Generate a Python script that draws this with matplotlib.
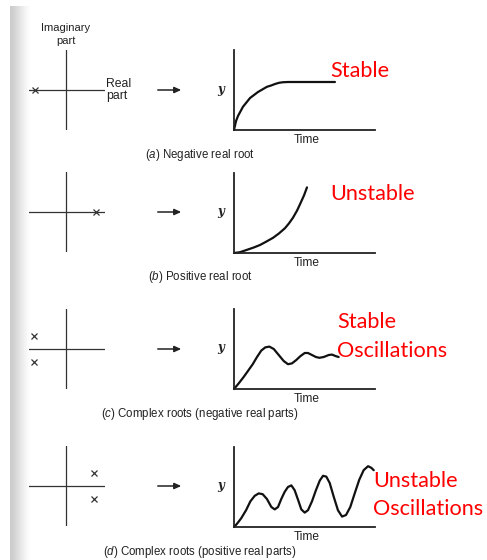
import numpy as np
import matplotlib
matplotlib.use("Agg")
from matplotlib import pyplot as plt

plt.rcParams['font.family'] = ['Liberation Sans', 'DejaVu Sans']
plt.rcParams['mathtext.fontset'] = 'custom'
plt.rcParams['mathtext.it'] = 'Liberation Sans:italic'
plt.rcParams['mathtext.rm'] = 'Liberation Sans'

# roots (real part, imaginary part), axes span -1..1
roots_re = [[-0.84], [0.76], [-0.87, -0.87], [0.71, 0.71]]
roots_im = [[0.0], [0.0], [0.33, -0.33], [0.33, -0.33]]

# responses (time, y)
t_a = [0, 0.14, 0.28, 0.63, 1.13, 1.69, 2.32, 2.61, 2.89, 3.17, 3.45, 3.80, 4.65, 7.11]
y_a = [0, 0.11, 0.175, 0.29, 0.40, 0.475, 0.54, 0.556, 0.575, 0.59, 0.597, 0.60, 0.60, 0.60]

t_b = [0, 0.42, 0.92, 1.41, 1.83, 2.25, 2.75, 3.17, 3.59, 3.87, 4.15, 4.44, 4.65, 4.93, 5.14]
y_b = [0, 0.01, 0.04, 0.07, 0.10, 0.14, 0.19, 0.245, 0.31, 0.37, 0.44, 0.53, 0.61, 0.72, 0.82]

t_c = [0, 0.33, 0.68, 1.04, 1.32, 1.62, 1.92, 2.20, 2.49, 2.80, 3.15, 3.50, 3.80,
       4.08, 4.37, 4.67, 4.98, 5.21, 5.49, 5.77, 6.01, 6.32, 6.67, 6.90, 7.18, 7.37]
y_c = [0, 0.07, 0.15, 0.24, 0.31, 0.40, 0.48, 0.52, 0.53, 0.50, 0.425, 0.35, 0.31,
       0.32, 0.36, 0.41, 0.45, 0.45, 0.425, 0.40, 0.39, 0.40, 0.425, 0.43, 0.41, 0.40]

t_d = [0, 0.21, 0.51, 0.85, 1.15, 1.46, 1.74, 2.02, 2.32, 2.63, 2.87, 3.10, 3.33,
       3.57, 3.80, 4.04, 4.27, 4.51, 4.74, 4.98, 5.21, 5.49, 5.77, 6.04, 6.27, 6.50,
       6.74, 7.02, 7.32, 7.61, 7.89, 8.19, 8.50, 8.82, 9.13, 9.44, 9.67, 9.84]
y_d = [0, 0.04, 0.11, 0.21, 0.32, 0.39, 0.42, 0.41, 0.35, 0.25, 0.22, 0.25, 0.35,
       0.44, 0.50, 0.52, 0.46, 0.34, 0.22, 0.18, 0.21, 0.32, 0.46, 0.58, 0.64, 0.63,
       0.55, 0.38, 0.21, 0.13, 0.15, 0.25, 0.42, 0.59, 0.71, 0.76, 0.74, 0.71]

captions = ["Negative real root", "Positive real root",
            "Complex roots (negative real parts)", "Complex roots (positive real parts)"]
letters = ["a", "b", "c", "d"]
notes = [["Stable"], ["Unstable"], ["Stable", "Oscillations"], ["Unstable", "Oscillations"]]

W, H = 487, 560
fig = plt.figure(figsize=(W / 100, H / 100), dpi=100)


def box(x0, y0, x1, y1):
    return [x0 / W, 1 - y1 / H, (x1 - x0) / W, (y1 - y0) / H]


def fx(x):
    return x / W


def fy(y):
    return 1 - y / H


# scanned page edge shading
bg = fig.add_axes([0, 0, 1, 1], zorder=-5)
bg.set_xlim(0, W)
bg.set_ylim(H, 0)
bg.axis("off")
shade = np.array([[0.80, 0.83, 0.87, 0.91, 0.95, 0.98, 1.0]])
bg.imshow(shade, cmap="gray", vmin=0, vmax=1, extent=(10, 33, H, 6),
          aspect="auto", interpolation="bilinear")

pole_top = [50, 172, 309, 446]
resp_top = [50, 173, 309, 447]
times = [t_a, t_b, t_c, t_d]
ys = [y_a, y_b, y_c, y_d]
cap_y = [155, 277, 414, 552]
note_x = [330, 330, 337, 373]
note_y = [[77], [200], [328, 357], [487, 515]]

for i in range(4):
    # root plane
    pa = fig.add_axes(box(29, pole_top[i], 105, pole_top[i] + 80))
    pa.set_xlim(-1, 1)
    pa.set_ylim(-1, 1)
    pa.axis("off")
    pa.axhline(0, color="#333333", lw=0.9)
    pa.axvline(-0.03, color="#333333", lw=0.9)
    pa.plot(roots_re[i], roots_im[i], "x", color="#333333", ms=5, mew=0.9)
    yc = pole_top[i] + 40

    # arrow and y label
    fig.patches.append(matplotlib.patches.FancyArrowPatch(
        (fx(155), fy(yc)), (fx(184), fy(yc)), transform=fig.transFigure,
        arrowstyle="-|>,head_length=4,head_width=1.8", lw=1.1, color="#222222"))
    fig.text(fx(221), fy(yc - 1), "y", family="DejaVu Serif", style="italic",
             weight="bold", fontsize=8.5, ha="center", va="center", color="#222222")

    # response
    top = resp_top[i]
    ra = fig.add_axes(box(234, top, 375, top + 80))
    ra.set_xlim(0, 9.93)
    ra.set_ylim(0, 1)
    ra.set_facecolor("none")
    for s in ["top", "right"]:
        ra.spines[s].set_visible(False)
    for s in ["left", "bottom"]:
        ra.spines[s].set_linewidth(1.3)
        ra.spines[s].set_color("#222222")
    ra.set_xticks([])
    ra.set_yticks([])
    ra.plot(times[i], ys[i], color="#111111", lw=1.6, solid_joinstyle="round",
            solid_capstyle="round", clip_on=False)
    fig.text(fx(307), fy(top + 90), "Time", fontsize=8.6, ha="center", va="center",
             color="#222222")
    fig.text(fx(200), fy(cap_y[i]), "($\\mathit{%s}$) %s" % (letters[i], captions[i]),
             fontsize=8.3, ha="center", va="center", color="#222222")

    for j, word in enumerate(notes[i]):
        fig.text(fx(note_x[i]), fy(note_y[i][j]), word, family="Lato", fontsize=15.6,
                 color="#ff0000", ha="left", va="baseline")

fig.text(fx(66), fy(31), "Imaginary", fontsize=8, ha="center", va="baseline", color="#222222")
fig.text(fx(66), fy(44), "part", fontsize=8, ha="center", va="baseline", color="#222222")
fig.text(fx(106), fy(87), "Real", fontsize=8.8, ha="left", va="baseline", color="#222222")
fig.text(fx(106), fy(99), "part", fontsize=8.8, ha="left", va="baseline", color="#222222")

fig.savefig("out.png", dpi=100)
